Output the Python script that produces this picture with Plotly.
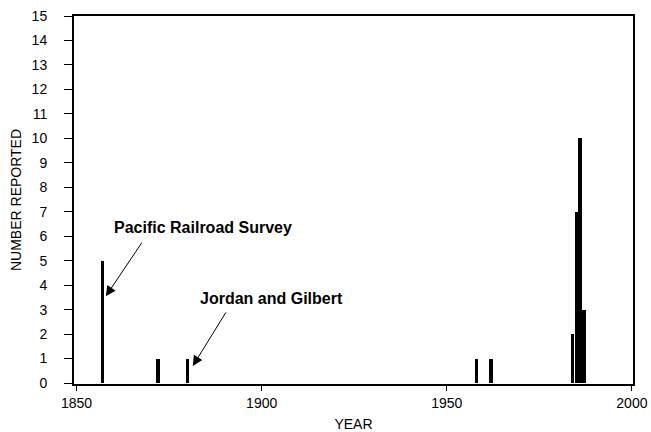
import plotly.graph_objects as go

years = [1857, 1872, 1880, 1958, 1962, 1984, 1985, 1986, 1987]
counts = [5, 1, 1, 1, 1, 2, 7, 10, 3]

x_ticks = [1850, 1900, 1950, 2000]
y_ticks = list(range(0, 16))

ann_labels = ["Pacific Railroad Survey", "Jordan and Gilbert"]
ann_years = [1857, 1880]
ann_values = [5, 1]

FONT = "Liberation Sans, Arial, Helvetica, sans-serif"

fig = go.Figure()
fig.add_trace(go.Bar(
    x=years, y=counts, width=0.95,
    marker=dict(color="black", line=dict(width=0)),
    showlegend=False,
))

fig.update_layout(
    width=651, height=432,
    margin=dict(l=74, r=18, t=16, b=48, autoexpand=False),
    paper_bgcolor="white", plot_bgcolor="white",
    font=dict(family=FONT, size=14, color="black"),
    bargap=0,
    xaxis=dict(
        range=[1849.3, 2000.3], tickvals=x_ticks, ticks="outside", ticklen=5,
        tickwidth=1, tickcolor="black", showgrid=False, zeroline=False,
        showline=True, linecolor="black", linewidth=2, mirror=True,
        tickfont=dict(size=14), automargin=False,
        title=dict(text="YEAR", font=dict(size=14), standoff=12),
    ),
    yaxis=dict(
        range=[-0.04, 15], tickvals=y_ticks, ticks="outside", ticklen=8,
        tickwidth=1, tickcolor="black", showgrid=False, zeroline=False,
        showline=True, linecolor="black", linewidth=2, mirror=True,
        tickfont=dict(size=14), ticklabelstandoff=14, automargin=False,
        title=dict(text="NUMBER REPORTED", font=dict(size=14), standoff=7),
    ),
)

# Pacific Railroad Survey label + arrow
fig.add_annotation(
    x=ann_years[0] + 0.9, y=ann_values[0] - 1.45, xref="x", yref="y",
    ax=37, ay=-55,
    text="", showarrow=True, arrowhead=2, arrowsize=2, arrowwidth=1, arrowcolor="black",
    standoff=0,
)
fig.add_annotation(
    x=ann_years[0], y=ann_values[0], xref="x", yref="y",
    text="<b>%s</b>" % ann_labels[0], showarrow=False,
    xanchor="left", yanchor="middle", xshift=9, yshift=33,
    font=dict(size=16, family=FONT),
)
# Jordan and Gilbert label + arrow
fig.add_annotation(
    x=ann_years[1] + 1.4, y=ann_values[1] - 0.3, xref="x", yref="y",
    ax=34, ay=-55,
    text="", showarrow=True, arrowhead=2, arrowsize=2, arrowwidth=1, arrowcolor="black",
    standoff=0,
)
fig.add_annotation(
    x=ann_years[1], y=ann_values[1], xref="x", yref="y",
    text="<b>%s</b>" % ann_labels[1], showarrow=False,
    xanchor="left", yanchor="middle", xshift=10, yshift=60,
    font=dict(size=16, family=FONT),
)

fig.write_html("out.html")
